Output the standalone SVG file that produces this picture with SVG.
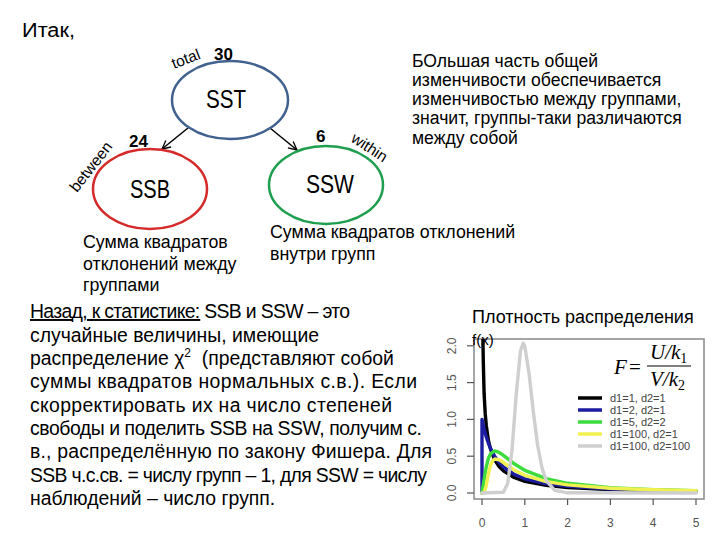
<svg xmlns="http://www.w3.org/2000/svg" width="720" height="540" viewBox="0 0 720 540">
<style>
.t{font-family:"Liberation Sans",Arial,sans-serif;fill:#000}
.body{font-size:17.8px}
.note{font-size:17.6px}
.para{font-size:19.4px}
.node{font-size:25px;text-anchor:middle}
.num{font-size:17px;font-weight:bold}
.lab{font-size:15.5px}
.tick{font-family:"Liberation Sans",Arial,sans-serif;font-size:12px;fill:#555;text-anchor:middle}
.leg{font-family:"Liberation Sans",Arial,sans-serif;font-size:11px;fill:#444}
.curve{fill:none;stroke-width:3.4;stroke-linejoin:round;stroke-linecap:round}
.math{font-family:"Liberation Serif","Times New Roman",serif;font-style:italic;font-size:21px}
</style>
<defs>
<marker id="arr" viewBox="0 0 12 12" refX="11" refY="6" markerWidth="10" markerHeight="10" markerUnits="userSpaceOnUse" orient="auto">
<path d="M1,1 L11,6 L1,11" fill="none" stroke="#000" stroke-width="1.6"/>
</marker>
<clipPath id="plot"><rect x="474" y="339" width="230" height="160"/></clipPath>
</defs>
<rect width="720" height="540" fill="#fff"/>

<text class="t" x="22" y="37" font-size="20" textLength="53" lengthAdjust="spacingAndGlyphs">Итак,</text>

<g id="connectors" stroke="#000" stroke-width="1.5" fill="none">
<line x1="188" y1="128" x2="162" y2="149" marker-end="url(#arr)"/>
<line x1="270" y1="128" x2="297" y2="150" marker-end="url(#arr)"/>
</g>

<g id="SST">
<ellipse cx="230" cy="100" rx="58" ry="39" fill="none" stroke="#41618f" stroke-width="2.5"/>
<text class="t node" x="226" y="108" textLength="40" lengthAdjust="spacingAndGlyphs">SST</text>
<text class="t num" x="214" y="60">30</text>
<text class="t lab" transform="translate(174,69) rotate(-21)">total</text>
</g>
<g id="SSB">
<ellipse cx="150" cy="189" rx="57" ry="40" fill="none" stroke="#d42a2a" stroke-width="2.5"/>
<text class="t node" x="150" y="198" textLength="40" lengthAdjust="spacingAndGlyphs">SSB</text>
<text class="t num" x="129" y="147">24</text>
<text class="t lab" transform="translate(77,193) rotate(-52)">between</text>
</g>
<g id="SSW">
<ellipse cx="326" cy="185" rx="57" ry="39" fill="none" stroke="#1e9e4e" stroke-width="2.5"/>
<text class="t node" x="330" y="193" textLength="48" lengthAdjust="spacingAndGlyphs">SSW</text>
<text class="t num" x="316" y="142">6</text>
<text class="t lab" transform="translate(350,141) rotate(33)">within</text>
</g>

<g id="desc">
<text class="t body" x="83" y="248">Сумма квадратов</text>
<text class="t body" x="83" y="270">отклонений между</text>
<text class="t body" x="83" y="291">группами</text>
<text class="t body" x="270" y="238">Сумма квадратов отклонений</text>
<text class="t body" x="270" y="260">внутри групп</text>
</g>

<g id="note">
<text class="t note" x="412" y="67">БОльшая часть общей</text>
<text class="t note" x="412" y="86">изменчивости обеспечивается</text>
<text class="t note" x="412" y="105">изменчивостью между группами,</text>
<text class="t note" x="412" y="124">значит, группы-таки различаются</text>
<text class="t note" x="412" y="144">между собой</text>
</g>

<g id="paragraph">
<text class="t para" x="30" y="318" textLength="320"><tspan text-decoration="underline">Назад, к статистике:</tspan> SSB и SSW – это</text>
<text class="t para" x="30" y="341.5">случайные величины, имеющие</text>
<text class="t para" x="30" y="365">распределение χ<tspan font-size="12" dy="-8">2</tspan><tspan dy="8" xml:space="preserve">  (представляют собой</tspan></text>
<text class="t para" x="30" y="388" textLength="387">суммы квадратов нормальных с.в.). Если</text>
<text class="t para" x="30" y="411.5" textLength="362">скорректировать их на число степеней</text>
<text class="t para" x="30" y="435" textLength="392">свободы и поделить SSB на SSW, получим с.</text>
<text class="t para" x="30" y="458" textLength="402">в., распределённую по закону Фишера.  Для</text>
<text class="t para" x="30" y="481.5" textLength="397">SSB ч.с.св. = числу групп – 1, для SSW = числу</text>
<text class="t para" x="30" y="505">наблюдений – число групп.</text>
</g>

<g id="chart">
<rect x="474" y="339" width="230" height="160" fill="none" stroke="#888" stroke-width="1.5"/>
<g stroke="#555" stroke-width="1.2">
<line x1="467" y1="493" x2="474" y2="493"/>
<line x1="467" y1="456.2" x2="474" y2="456.2"/>
<line x1="467" y1="419.4" x2="474" y2="419.4"/>
<line x1="467" y1="382.6" x2="474" y2="382.6"/>
<line x1="467" y1="345.8" x2="474" y2="345.8"/>
<line x1="482" y1="499" x2="482" y2="505"/>
<line x1="524.8" y1="499" x2="524.8" y2="505"/>
<line x1="567.6" y1="499" x2="567.6" y2="505"/>
<line x1="610.4" y1="499" x2="610.4" y2="505"/>
<line x1="653.2" y1="499" x2="653.2" y2="505"/>
<line x1="696" y1="499" x2="696" y2="505"/>
</g>
<text class="tick" transform="translate(456,493) rotate(-90)">0.0</text>
<text class="tick" transform="translate(456,456.2) rotate(-90)">0.5</text>
<text class="tick" transform="translate(456,419.4) rotate(-90)">1.0</text>
<text class="tick" transform="translate(456,382.6) rotate(-90)">1.5</text>
<text class="tick" transform="translate(456,345.8) rotate(-90)">2.0</text>
<text class="tick" x="482" y="527">0</text>
<text class="tick" x="524.8" y="527">1</text>
<text class="tick" x="567.6" y="527">2</text>
<text class="tick" x="610.4" y="527">3</text>
<text class="tick" x="653.2" y="527">4</text>
<text class="tick" x="696" y="527">5</text>

<g clip-path="url(#plot)">
<polyline class="curve" stroke="#000" points="482.4,261 482.9,338.4 483.3,361.7 484.1,393.2 485.2,413.4 486.3,425.7 488.4,440.4 490.6,449.4 494.8,460.1 499.1,466.5 503.4,470.9 514.1,477.5 524.8,481.3 546.2,485.3 567.6,487.5 610.4,489.6 653.2,490.7 696,491.3"/>
<polyline class="curve" stroke="#1c1ca0" points="482,493 482,419.4 484.1,429.2 486.3,437 488.4,443.3 490.6,448.6 494.8,456.6 499.1,462.5 503.4,467 514.1,474.4 524.8,478.8 546.2,483.8 567.6,486.4 610.4,489 653.2,490.3 696,491"/>
<polyline class="curve" stroke="#3ddc3d" points="482,493 484.1,479.5 486.3,466.7 488.4,458.3 490.6,453.7 494.8,450.9 499.1,452.3 503.4,455.4 514.1,463.7 524.8,470.3 546.2,478.7 567.6,483.3 610.4,487.7 653.2,489.7 696,490.7"/>
<polyline class="curve" stroke="#f0f050" points="482,493 484.1,492.7 486.3,485.5 488.4,473.6 490.6,465.1 492.7,460.7 494.8,459 499.1,459.7 503.4,462.5 514.1,469.9 524.8,475.3 546.2,481.6 567.6,484.9 610.4,488.2 653.2,489.8 696,490.6"/>
<polyline class="curve" stroke="#cfcfcf" points="482,493 503.4,492.3 507.7,483.6 512,450.2 516.2,394.5 520.5,351 523.1,343.2 524.8,346.2 529.1,373.8 533.4,412.3 537.6,445.2 541.9,467.5 546.2,480.5 554.8,490.4 567.6,492.8 696,493"/>
</g>

<g stroke-width="3.5">
<line x1="578" y1="398" x2="602" y2="398" stroke="#000"/>
<line x1="578" y1="410" x2="602" y2="410" stroke="#1c1ca0"/>
<line x1="578" y1="422" x2="602" y2="422" stroke="#3ddc3d"/>
<line x1="578" y1="434" x2="602" y2="434" stroke="#f0f050"/>
<line x1="578" y1="446" x2="602" y2="446" stroke="#cfcfcf"/>
</g>
<text class="leg" x="610" y="402">d1=1, d2=1</text>
<text class="leg" x="610" y="414">d1=2, d2=1</text>
<text class="leg" x="610" y="426">d1=5, d2=2</text>
<text class="leg" x="610" y="438">d1=100, d2=1</text>
<text class="leg" x="610" y="450">d1=100, d2=100</text>

<text class="math" x="614" y="374">F</text>
<text font-family="Liberation Serif,serif" font-size="21" x="629" y="374">=</text>
<line x1="647" y1="366" x2="691" y2="366" stroke="#000" stroke-width="1.2"/>
<text class="math" x="650" y="359">U/k<tspan font-style="normal" font-size="14" dy="4">1</tspan></text>
<text class="math" x="650" y="386">V/k<tspan font-style="normal" font-size="14" dy="4">2</tspan></text>

<text class="t" x="472" y="323" font-size="18">Плотность распределения</text>
<text class="t" x="472" y="345" font-size="15">f(x)</text>
</g>
</svg>
